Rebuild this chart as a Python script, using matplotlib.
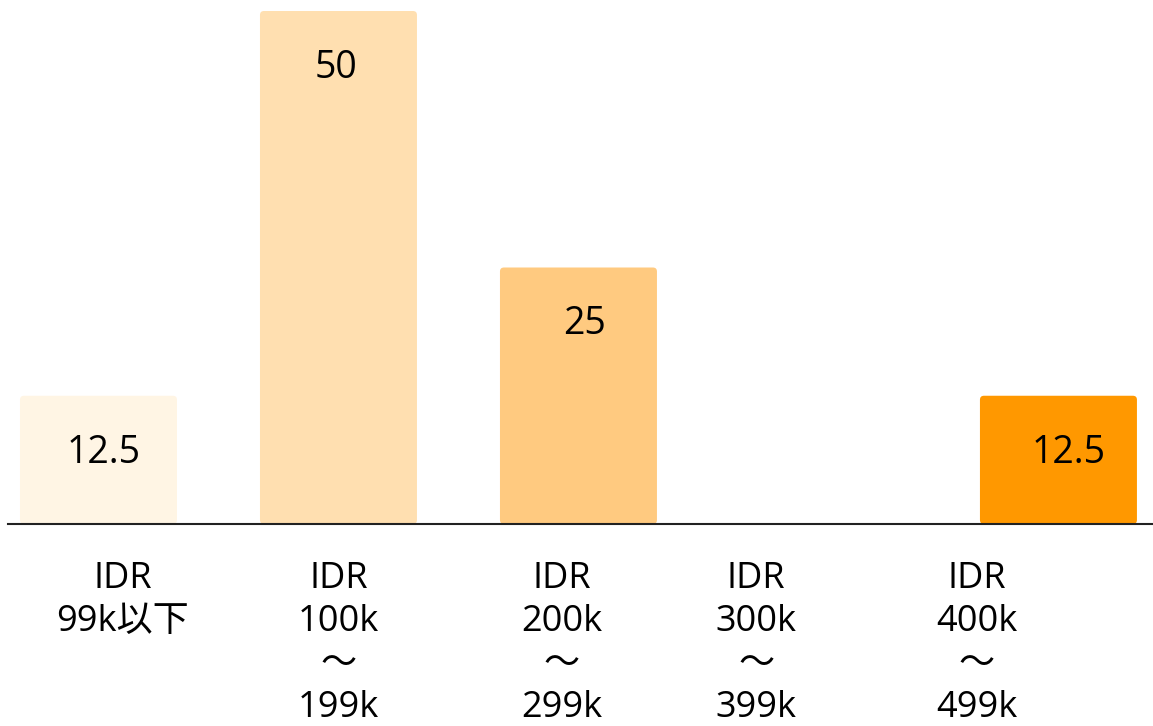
import numpy as np
import matplotlib
matplotlib.use("Agg")
import matplotlib.pyplot as plt
from matplotlib.patches import FancyBboxPatch

# income brackets and share of respondents (%)
categories = ["IDR\n99k以下", "IDR\n100k\n～\n199k", "IDR\n200k\n～\n299k",
              "IDR\n300k\n～\n399k", "IDR\n400k\n～\n499k"]
values = [12.5, 50, 25, 0, 12.5]
value_labels = ["12.5", "50", "25", "", "12.5"]

colors = ["#FFF5E4", "#FFDFB0", "#FFCA80", "#FFB347", "#FF9800"]
fonts = ["Open Sans", "Noto Sans CJK JP", "DejaVu Sans"]

W, H, DPI = 1153, 726, 100
fig = plt.figure(figsize=(W / DPI, H / DPI), dpi=DPI)
ax = fig.add_axes([8 / W, 202 / H, (W - 8) / W, 513 / H])

x = np.arange(len(values))
bar_w = 157 / 240
bars = ax.bar(x, values, width=bar_w, color=colors, zorder=2)

ax.set_xlim(-0.377, 4.394)
ax.set_ylim(0, 50)

# swap plain rectangles for ones with slightly rounded corners
px_x = 240.0
px_y = 513 / 50
r = 4 / px_x
for b, c in zip(bars, colors):
    if b.get_height() <= 0:
        b.set_visible(False)
        continue
    p = FancyBboxPatch((b.get_x(), b.get_y()), b.get_width(), b.get_height(),
                       boxstyle=f"round,pad=0,rounding_size={r}",
                       mutation_aspect=(4 / px_y) / r,
                       facecolor=c, edgecolor="none", zorder=2, clip_on=False)
    ax.add_patch(p)
    b.set_visible(False)

# value labels inside the bars, near the top
label_dx = [5, -2, 6, 0, 10]
for xi, v, t, dx in zip(x, values, value_labels, label_dx):
    if not t:
        continue
    ax.annotate(t, (xi, v), xytext=(dx * 0.72, -57 * 0.72), textcoords="offset points",
                ha="center", va="center", fontsize=27, family=fonts, zorder=3)

# category labels under the axis
cat_dx = [0.1, 0.0, -0.07, -0.26, -0.34]
for xi, lab, dx in zip(x, categories, cat_dx):
    ax.annotate(lab, (xi + dx, 0), xytext=(0, -27), textcoords="offset points",
                ha="center", va="top", multialignment="center",
                fontsize=26, family=fonts, linespacing=1.25, annotation_clip=False)

for s in ["top", "right", "left"]:
    ax.spines[s].set_visible(False)
ax.spines["bottom"].set_color("#222222")
ax.spines["bottom"].set_linewidth(1.5)
ax.spines["bottom"].set_zorder(4)
ax.set_xticks([])
ax.set_yticks([])

fig.savefig("out.png", dpi=DPI)
